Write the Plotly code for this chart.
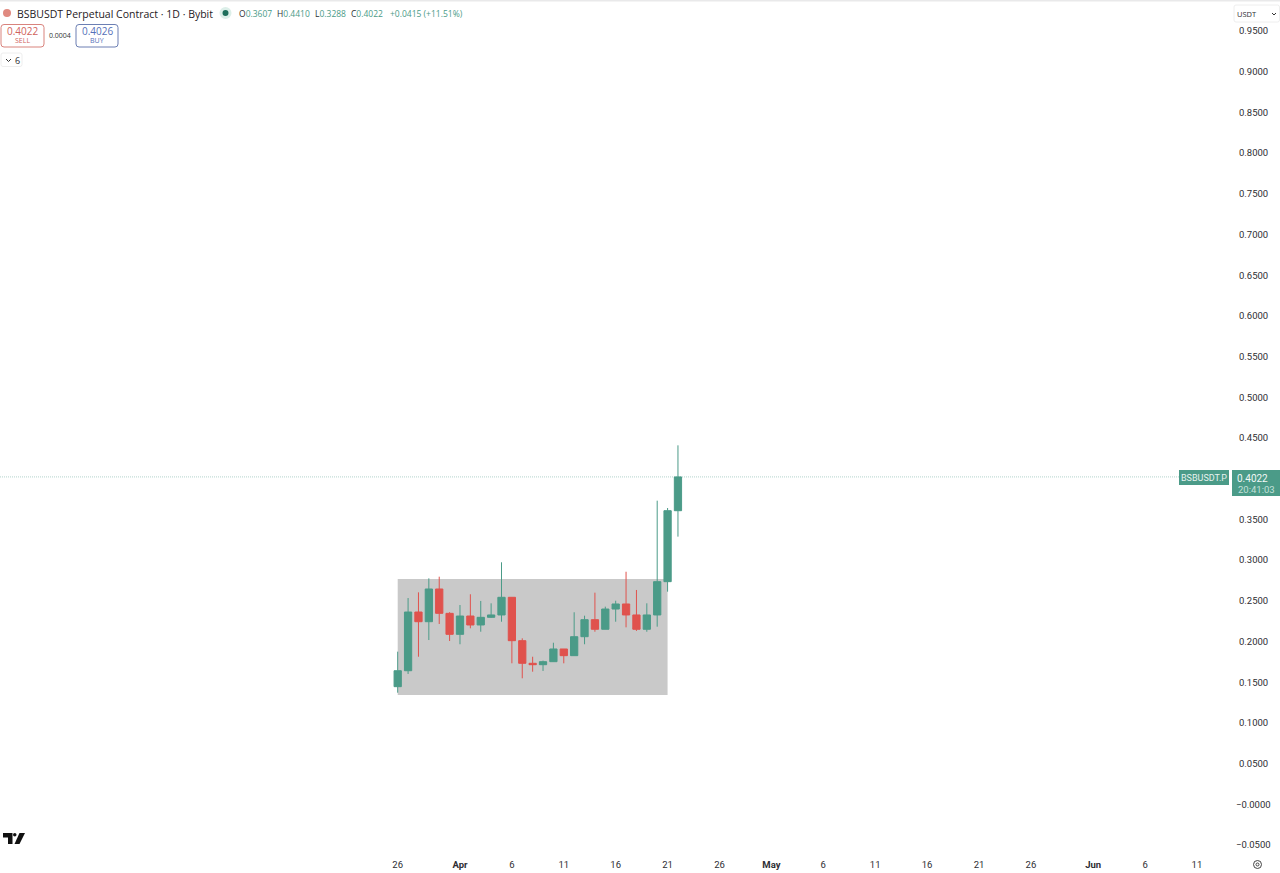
import pandas as pd
import plotly.graph_objects as go

# daily candles, 26 Mar -> 22 Apr
dates = pd.date_range("2025-03-26", "2025-04-22", freq="D")
opens = [0.1445, 0.1641, 0.2362, 0.2243, 0.2645, 0.2346, 0.2088, 0.2313, 0.2203, 0.2297,
         0.2326, 0.2543, 0.2010, 0.1732, 0.1715, 0.1752, 0.1908, 0.1826, 0.2059, 0.2268,
         0.2150, 0.2399, 0.2461, 0.2326, 0.2150, 0.2326, 0.2735, 0.3607]
highs = [0.1875, 0.2534, 0.2604, 0.2776, 0.2796, 0.2360, 0.2448, 0.2580, 0.2498, 0.2469,
         0.2973, 0.2543, 0.2039, 0.1813, 0.1765, 0.1985, 0.1908, 0.2359, 0.2317, 0.2600,
         0.2428, 0.2501, 0.2857, 0.2633, 0.2469, 0.3730, 0.3640, 0.4410]
lows = [0.1371, 0.1601, 0.1813, 0.2018, 0.2215, 0.2006, 0.1966, 0.2162, 0.2120, 0.2290,
        0.2243, 0.1732, 0.1548, 0.1629, 0.1638, 0.1750, 0.1732, 0.1826, 0.1966, 0.2120,
        0.2150, 0.2243, 0.2174, 0.2130, 0.2120, 0.2182, 0.2612, 0.3288]
closes = [0.1641, 0.2362, 0.2243, 0.2645, 0.2346, 0.2088, 0.2313, 0.2203, 0.2297, 0.2326,
          0.2543, 0.2010, 0.1732, 0.1715, 0.1752, 0.1908, 0.1826, 0.2059, 0.2268, 0.2150,
          0.2399, 0.2461, 0.2326, 0.2150, 0.2326, 0.2735, 0.3607, 0.4022]

# 0.40 has no label, the price tag sits there; the two negative ones are centred below
price_ticks = [0.95, 0.90, 0.85, 0.80, 0.75, 0.70, 0.65, 0.60, 0.55, 0.50, 0.45,
               0.35, 0.30, 0.25, 0.20, 0.15, 0.10, 0.05]
price_labels = ["0.9500", "0.9000", "0.8500", "0.8000", "0.7500", "0.7000", "0.6500",
                "0.6000", "0.5500", "0.5000", "0.4500", "0.3500", "0.3000",
                "0.2500", "0.2000", "0.1500", "0.1000", "0.0500"]
neg_ticks = [0.0, -0.05]
neg_labels = ["−0.0000", "−0.0500"]
date_ticks = ["2025-03-26", "2025-04-01", "2025-04-06", "2025-04-11", "2025-04-16", "2025-04-21",
              "2025-04-26", "2025-05-01", "2025-05-06", "2025-05-11", "2025-05-16", "2025-05-21",
              "2025-05-26", "2025-06-01", "2025-06-06", "2025-06-11"]
date_labels = ["26", "<b>Apr</b>", "6", "11", "16", "21", "26", "<b>May</b>", "6", "11", "16",
               "21", "26", "<b>Jun</b>", "6", "11"]
ohlc_names = ["O", "H", "L", "C"]
ohlc_values = ["0.3607", "0.4410", "0.3288", "0.4022"]
ohlc_px = [237.5, 275.5, 313.5, 350.5]

range_start, range_end = "2025-03-26", "2025-04-21"
range_low, range_high = 0.1343, 0.2768
last_price = 0.4022

GREEN = "#4b9b88"
RED = "#e0524d"
TEXT = "#2e2e33"
FONT = "Open Sans"
AXIS_FONT = "Roboto"
W, H = 1280, 873
ML, MR, MT, MB = 0, 48, 0, 18
PW, PH = W - ML - MR, H - MT - MB


def fx(px):
    return px / PW


def fy(py):
    return 1 - py / PH


def label(px, py, text, size=10, color=TEXT, anchor="left", family=FONT, **kw):
    fig.add_annotation(xref="paper", yref="paper", x=fx(px), y=fy(py), text=text, showarrow=False,
                       xanchor=anchor, yanchor="middle", borderpad=0,
                       font=dict(family=family, size=size, color=color), **kw)


def rrect(x0, y0, x1, y1, r, **kw):
    path = (f"M {fx(x0 + r)} {fy(y0)} L {fx(x1 - r)} {fy(y0)} Q {fx(x1)} {fy(y0)} {fx(x1)} {fy(y0 + r)} "
            f"L {fx(x1)} {fy(y1 - r)} Q {fx(x1)} {fy(y1)} {fx(x1 - r)} {fy(y1)} "
            f"L {fx(x0 + r)} {fy(y1)} Q {fx(x0)} {fy(y1)} {fx(x0)} {fy(y1 - r)} "
            f"L {fx(x0)} {fy(y0 + r)} Q {fx(x0)} {fy(y0)} {fx(x0 + r)} {fy(y0)} Z")
    fig.add_shape(type="path", xref="paper", yref="paper", path=path, **kw)


def poly(points, **kw):
    path = "M " + " L ".join(f"{fx(a)} {fy(b)}" for a, b in points)
    fig.add_shape(type="path", xref="paper", yref="paper", path=path, **kw)


fig = go.Figure()
fig.add_trace(go.Candlestick(
    x=dates, open=opens, high=highs, low=lows, close=closes,
    increasing=dict(line=dict(color=GREEN, width=1), fillcolor=GREEN),
    decreasing=dict(line=dict(color=RED, width=1), fillcolor=RED),
    whiskerwidth=0, showlegend=False, hoverinfo="skip"))

# grey range box behind the candles
fig.add_shape(type="rect", xref="x", yref="y", x0=range_start, x1=range_end, y0=range_low, y1=range_high,
              fillcolor="#c9c9c9", line_width=0, layer="below")
# last price line
fig.add_shape(type="line", xref="paper", yref="y", x0=0, x1=fx(1179), y0=last_price, y1=last_price,
              line=dict(color=GREEN, width=0.6, dash="1px,1px"), opacity=0.7)

# price tags
fig.add_shape(type="rect", xref="paper", yref="paper", x0=fx(1179), x1=fx(1229), y0=fy(470), y1=fy(485),
              fillcolor=GREEN, line_width=0, layer="above")
fig.add_shape(type="rect", xref="paper", yref="paper", x0=fx(1232), x1=fx(1280), y0=fy(470), y1=fy(496),
              fillcolor=GREEN, line_width=0, layer="above")
label(1204, 478, "BSBUSDT.P", size=9, color="#e6f2ef", anchor="center", family=AXIS_FONT)
label(1252.5, 478, "0.4022", size=10, color="#f2f8f6", anchor="center", family=AXIS_FONT)
label(1256, 489, "20:41:03", size=9.5, color="#c4e0d9", anchor="center", family=AXIS_FONT)

for v, t in zip(neg_ticks, neg_labels):
    fig.add_annotation(xref="paper", yref="y", x=fx(1253), y=v, text=t, showarrow=False, xanchor="center",
                       yanchor="middle", borderpad=0, font=dict(family=AXIS_FONT, size=9.5, color=TEXT))

# header
fig.add_shape(type="rect", xref="paper", yref="paper", x0=0, x1=fx(W), y0=fy(0), y1=fy(1.5),
              fillcolor="#e9e9ea", line_width=0)
fig.add_shape(type="circle", xref="paper", yref="paper", x0=fx(3), x1=fx(11), y0=fy(9), y1=fy(17),
              fillcolor="#e08a80", line_width=0)
fig.add_shape(type="circle", xref="paper", yref="paper", x0=fx(219.5), x1=fx(231.5), y0=fy(7), y1=fy(19),
              fillcolor="#dcefe9", line_width=0)
fig.add_shape(type="circle", xref="paper", yref="paper", x0=fx(222.5), x1=fx(228.5), y0=fy(10), y1=fy(16),
              fillcolor="#1f6f5c", line_width=0)
label(16, 13.5, "BSBUSDT Perpetual Contract · 1D · Bybit", size=10.5, color="#1f2024")
for px, name, val in zip(ohlc_px, ohlc_names, ohlc_values):
    label(px, 13.5, f"{name}<span style='color:{GREEN}'>{val}</span>", size=8.5)
label(388.5, 13.5, "+0.0415 (+11.51%)", size=8.5, color=GREEN)

# sell / buy buttons
rrect(1, 24.5, 44, 47, 3, line=dict(color="#d9837d", width=1), fillcolor="white")
rrect(76, 24.5, 118, 47, 3, line=dict(color="#6c7fb3", width=1), fillcolor="white")
label(22.5, 31, "0.4022", size=10, color="#d0625c", anchor="center")
label(22.5, 41, "SELL", size=7, color="#d0625c", anchor="center")
label(97, 31, "0.4026", size=10, color="#5470b8", anchor="center")
label(97, 41, "BUY", size=7, color="#5470b8", anchor="center")
label(60, 35.5, "0.0004", size=7, color="#333333", anchor="center")

# collapsed indicators
rrect(1, 53, 22, 66.5, 2, line=dict(color="#eeeeee", width=1), fillcolor="white")
poly([(6, 59), (8.5, 61.5), (11, 59)], line=dict(color="#333333", width=1))
label(17, 60, "6", size=9, anchor="center")

# currency selector
rrect(1234, 5, 1279.5, 22, 2, line=dict(color="#eeeeee", width=1), fillcolor="white")
label(1236, 13.5, "USDT", size=7.5)
poly([(1272, 13), (1274, 15), (1276, 13)], line=dict(color="#333333", width=1))

# logo
poly([(3, 833), (12.5, 833), (12.5, 844), (8, 844), (8, 837.5), (3, 837.5)], fillcolor="#111111", line_width=0)
fig.add_shape(type="circle", xref="paper", yref="paper", x0=fx(13), x1=fx(16.5), y0=fy(833), y1=fy(836.5),
              fillcolor="#111111", line_width=0)
poly([(19.5, 833), (25, 833), (19.5, 844), (14.5, 844)], fillcolor="#111111", line_width=0)

# settings icon
fig.add_shape(type="circle", xref="paper", yref="paper", x0=fx(1253.5), x1=fx(1261.5), y0=fy(860.5), y1=fy(868.5),
              line=dict(color="#444444", width=1), fillcolor="white")
fig.add_shape(type="circle", xref="paper", yref="paper", x0=fx(1256), x1=fx(1259), y0=fy(863), y1=fy(866),
              line=dict(color="#444444", width=1), fillcolor="white")

day_px = 10.38
first = pd.Timestamp("2025-03-26")
x_range = [first - pd.Timedelta(days=397.7 / day_px), first + pd.Timedelta(days=(PW - 397.7) / day_px)]

fig.update_layout(
    width=W, height=H, autosize=False,
    margin=dict(l=ML, r=MR, t=MT, b=MB, pad=0),
    paper_bgcolor="white", plot_bgcolor="white",
    boxgap=0.3, boxgroupgap=0,
    font=dict(family=FONT, size=10, color=TEXT),
    xaxis=dict(range=x_range, rangeslider=dict(visible=False), showgrid=False, zeroline=False, showline=False,
               ticks="", tickmode="array", tickvals=date_ticks, ticktext=date_labels,
               tickfont=dict(family=AXIS_FONT, size=9.5, color=TEXT), ticklabelstandoff=2),
    yaxis=dict(range=[-0.0623, 0.9881], side="right", showgrid=False, zeroline=False, showline=False,
               ticks="", tickmode="array", tickvals=price_ticks, ticktext=price_labels,
               tickfont=dict(family=AXIS_FONT, size=9.5, color=TEXT), ticklabelstandoff=6),
)

# the page's default body margin would push the chart off by 8px
fig.write_html("out.html", config=dict(displayModeBar=False), post_script="document.body.style.margin='0';")
